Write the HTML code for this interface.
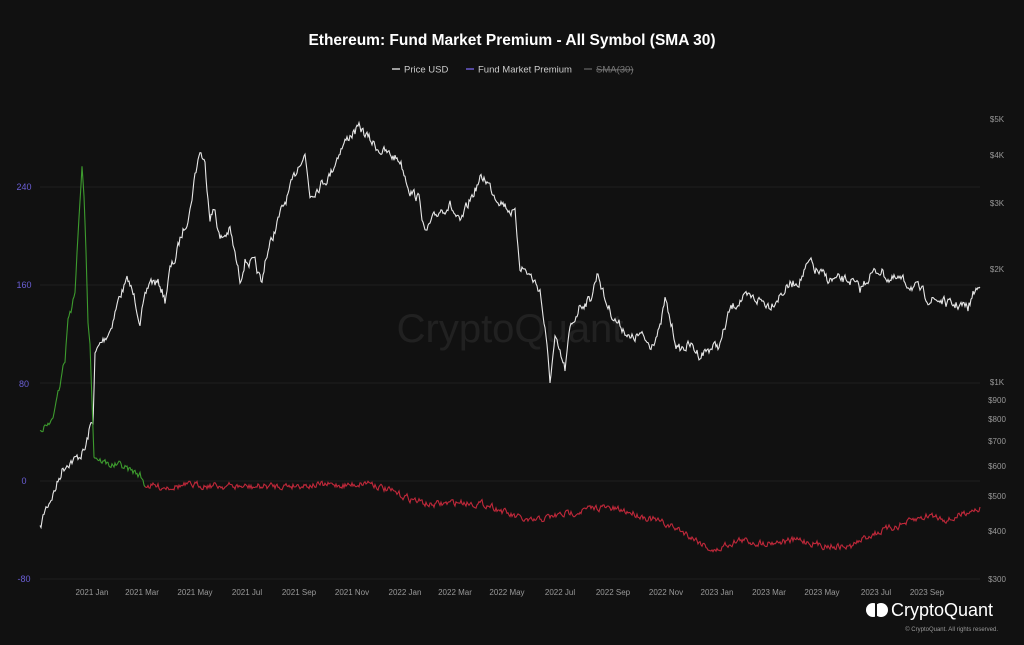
<!DOCTYPE html>
<html><head><meta charset="utf-8"><style>
html,body{margin:0;padding:0;background:#111111;}
body{width:1024px;height:645px;overflow:hidden;font-family:"Liberation Sans",sans-serif;}
</style></head><body>
<svg id="s" width="1024" height="645" xmlns="http://www.w3.org/2000/svg" style="display:block">
<rect width="1024" height="645" fill="#111111"/>
<text x="512" y="45" text-anchor="middle" fill="#ffffff" font-size="15.5" font-weight="bold">Ethereum: Fund Market Premium - All Symbol (SMA 30)</text>
<g font-size="9.5" fill="#cccccc">
<line x1="392" y1="69" x2="400" y2="69" stroke="#cccccc" stroke-width="1.5"/><text x="404" y="72.5">Price USD</text>
<line x1="466" y1="69" x2="474" y2="69" stroke="#6a5acd" stroke-width="1.5"/><text x="478" y="72.5">Fund Market Premium</text>
<line x1="584" y1="69" x2="592" y2="69" stroke="#555" stroke-width="1.5"/><text x="596" y="72.5" fill="#777" text-decoration="line-through">SMA(30)</text>
</g>
<g stroke="#202020" stroke-width="1">
<line x1="40" y1="187" x2="980" y2="187"/><line x1="40" y1="285" x2="980" y2="285"/>
<line x1="40" y1="383" x2="980" y2="383"/><line x1="40" y1="481" x2="980" y2="481"/>
<line x1="40" y1="579" x2="980" y2="579"/>
</g>
<g font-size="9" fill="#6b5fd6" text-anchor="middle">
<text x="24" y="190">240</text><text x="24" y="288">160</text><text x="24" y="387">80</text><text x="24" y="484">0</text><text x="24" y="582">-80</text>
</g>
<g font-size="8" fill="#999" text-anchor="middle">
<text x="997" y="122">$5K</text><text x="997" y="158">$4K</text><text x="997" y="206">$3K</text><text x="997" y="272">$2K</text>
<text x="997" y="385">$1K</text><text x="997" y="403">$900</text><text x="997" y="422">$800</text><text x="997" y="444">$700</text>
<text x="997" y="469">$600</text><text x="997" y="499">$500</text><text x="997" y="534">$400</text><text x="997" y="582">$300</text>
</g>
<g font-size="8" fill="#999" text-anchor="middle" id="xl"></g>
<text x="510" y="342" text-anchor="middle" fill="#ffffff" fill-opacity="0.07" font-size="40">CryptoQuant</text>
<g id="lines"></g>
<g transform="translate(866,602)">
<circle cx="7" cy="8" r="7" fill="#fff"/><circle cx="15" cy="8" r="7" fill="#fff"/><rect x="9" y="1" width="2" height="14" fill="#111"/>
</g>
<text x="891" y="616" fill="#fff" font-size="18">CryptoQuant</text>
<text x="998" y="631" text-anchor="end" fill="#999" font-size="6">© CryptoQuant. All rights reserved.</text>
</svg>
<script>
var NS="http://www.w3.org/2000/svg";
var xl=document.getElementById('xl');
var labs=[[92,"2021 Jan"],[142,"2021 Mar"],[195,"2021 May"],[247,"2021 Jul"],[299,"2021 Sep"],[352,"2021 Nov"],[405,"2022 Jan"],[455,"2022 Mar"],[507,"2022 May"],[560,"2022 Jul"],[613,"2022 Sep"],[666,"2022 Nov"],[717,"2023 Jan"],[769,"2023 Mar"],[822,"2023 May"],[876,"2023 Jul"],[927,"2023 Sep"]];
labs.forEach(function(l){var t=document.createElementNS(NS,'text');t.setAttribute('x',l[0]);t.setAttribute('y',595);t.textContent=l[1];xl.appendChild(t);});
var seed=7;function rnd(){seed=(seed*16807)%2147483647;return seed/2147483647-0.5;}
var last=0;function srnd(){var r=rnd();last=0.5*last+r;return last;}
function interp(k,x){for(var i=0;i<k.length-1;i++){if(x>=k[i][0]&&x<=k[i+1][0]){var t=(x-k[i][0])/(k[i+1][0]-k[i][0]);return k[i][1]+t*(k[i+1][1]-k[i][1]);}}return k[k.length-1][1];}
var price=[[40,530],[45,510],[55,490],[62,470],[68,462],[75,460],[80,455],[85,450],[90,428],[93,420],[95,355],[100,345],[110,330],[120,295],[128,280],[135,300],[140,320],[150,280],[160,285],[165,300],[170,270],[175,260],[180,240],[190,210],[195,175],[200,150],[205,165],[210,215],[215,210],[220,240],[230,230],[240,280],[245,260],[255,265],[262,285],[265,260],[270,245],[280,215],[290,190],[300,160],[305,155],[310,195],[320,185],[330,175],[340,150],[350,135],[360,128],[370,140],[380,150],[390,155],[400,160],[410,190],[420,200],[425,235],[430,225],[440,210],[450,205],[460,225],[470,200],[480,180],[485,178],[495,195],[505,205],[515,215],[520,265],[530,275],[540,290],[545,330],[550,380],[555,340],[565,370],[570,330],[580,305],[590,300],[598,272],[605,300],[615,320],[625,330],[630,340],[640,335],[650,345],[660,330],[665,300],[670,320],[678,350],[690,345],[700,355],[710,348],[720,345],[730,310],[740,300],[750,298],[760,300],[770,305],[780,295],[790,285],[800,280],[810,262],[815,270],[830,280],[850,280],[860,290],[870,275],[880,270],[890,280],[900,280],[910,285],[920,290],[930,300],[940,300],[950,305],[960,305],[968,308],[975,290],[980,288]];
var prem=[[40,428],[50,425],[55,410],[60,385],[62,370],[65,360],[68,320],[70,310],[72,308],[75,290],[80,200],[82,167],[84,200],[86,250],[88,320],[90,340],[92,400],[94,455],[100,460],[110,465],[120,465],[130,470],[140,475],[145,485],[160,487],[200,485],[250,487],[300,485],[350,485],[370,482],[380,487],[400,495],[430,505],[460,502],[490,505],[510,515],[530,522],[550,517],[570,513],[600,507],[630,512],[660,522],[680,530],[700,542],[715,552],[725,545],[740,540],[760,543],[800,540],[820,545],[850,547],[870,535],[900,525],[930,515],[950,520],[970,510],[980,508]];
var g=document.getElementById('lines');
var d="";for(var x=40;x<=980;x+=1){var y=interp(price,x)+srnd()*9;d+=(x==40?"M":"L")+x+","+y.toFixed(1);}
var p=document.createElementNS(NS,'path');p.setAttribute('d',d);p.setAttribute('fill','none');p.setAttribute('stroke','#e8e8e8');p.setAttribute('stroke-width','1.1');g.appendChild(p);
var dg="",dr="";for(var x=40;x<=980;x+=1){var y=interp(prem,x)+srnd()*6;if(x<=145){dg+=(x==40?"M":"L")+x+","+y.toFixed(1);}if(x>=145){dr+=(x==145?"M":"L")+x+","+y.toFixed(1);}}
[[dg,'#3d9b2e'],[dr,'#c0283a']].forEach(function(a){var q=document.createElementNS(NS,'path');q.setAttribute('d',a[0]);q.setAttribute('fill','none');q.setAttribute('stroke',a[1]);q.setAttribute('stroke-width','1.1');g.appendChild(q);});
</script>
</body></html>
